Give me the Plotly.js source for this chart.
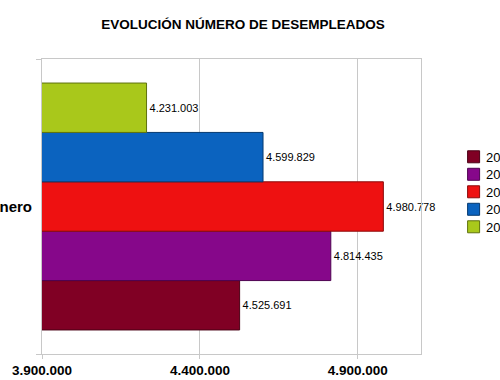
<!DOCTYPE html>
<html>
<head>
<meta charset="utf-8">
<script src="https://cdn.plot.ly/plotly-3.0.1.min.js"></script>
<style>
html,body{margin:0;padding:0;background:#fff;overflow:hidden;}
#chart{width:500px;height:380px;}
</style>
</head>
<body>
<div id="chart"></div>
<script>
const categories = ["Enero"];
const seriesNames = ["2015", "2014", "2013", "2012", "2011"];
const seriesValues = [
  [4525691],
  [4814435],
  [4980778],
  [4599829],
  [4231003]
];
const seriesColors = ["#800024", "#86078a", "#ee1111", "#0b63bf", "#a9c81b"];
const lineColors = ["#4a0015", "#4e0450", "#8a0a0a", "#063a70", "#5f720f"];
const xTicks = [3900000, 4400000, 4900000];

const FONT = "Liberation Sans, Arial, sans-serif";

const traces = seriesNames.map((name, i) => ({
  type: "bar",
  orientation: "h",
  name: name,
  y: categories,
  x: seriesValues[i],
  marker: {color: seriesColors[i], line: {color: lineColors[i], width: 1}},
  texttemplate: "%{x:,d}",
  textposition: "outside",
  cliponaxis: false,
  textfont: {family: FONT, size: 11, color: "#000"}
}));

const layout = {
  width: 500, height: 380,
  separators: ",.",
  paper_bgcolor: "#fff",
  plot_bgcolor: "#fff",
  barmode: "group",
  bargap: 0.163,
  bargroupgap: 0,
  margin: {l: 42, r: 78.5, t: 59, b: 26, autoexpand: false},
  title: {
    text: "<b>EVOLUCIÓN NÚMERO DE DESEMPLEADOS</b>",
    font: {family: FONT, size: 13.5, color: "#000"},
    x: 0.486, xref: "container", xanchor: "center",
    y: 0.937, yref: "container", yanchor: "middle"
  },
  xaxis: {
    range: [3900000, 5100000],
    tickvals: xTicks,
    tickformat: ",d",
    showgrid: true, gridcolor: "#c8c8c8", gridwidth: 1,
    showline: true, linecolor: "#c8c8c8", mirror: true,
    ticks: "outside", ticklen: 4, tickcolor: "#c8c8c8",
    zeroline: false,
    tickfont: {family: FONT, size: 13.5, color: "#000", weight: "bold"}
  },
  yaxis: {
    showline: true, linecolor: "#c8c8c8", mirror: true,
    ticks: "outside", ticklen: 5, tickcolor: "#c8c8c8",
    tickson: "boundaries",
    ticklabelstandoff: 6,
    tickfont: {family: FONT, size: 15, color: "#000", weight: "bold"}
  },
  showlegend: true,
  legend: {
    x: 1.086, xanchor: "left", y: 0.549, yanchor: "middle",
    traceorder: "normal",
    font: {family: FONT, size: 13, color: "#000"},
    itemwidth: 30, tracegroupgap: 0,
    bgcolor: "rgba(0,0,0,0)"
  }
};

Plotly.newPlot("chart", traces, layout, {displayModeBar: false, staticPlot: true}).then(() => {
  document.querySelectorAll("#chart .legendtext").forEach(t => t.setAttribute("x", 32.5));
  // tighten legend row spacing to match the reference
  const items = Array.from(document.querySelectorAll("#chart .legend .traces"));
  const ys = items.map(g => {
    const m = /translate\(\s*([-\d.]+)[ ,]+([-\d.]+)/.exec(g.getAttribute("transform") || "");
    return m ? [parseFloat(m[1]), parseFloat(m[2])] : [0, 0];
  });
  if (ys.length > 1) {
    const mid = (ys[0][1] + ys[ys.length - 1][1]) / 2;
    const step = (ys[ys.length - 1][1] - ys[0][1]) / (ys.length - 1);
    const k = 17.5 / step;
    items.forEach((g, i) => {
      g.setAttribute("transform", "translate(" + ys[i][0] + "," + (mid + (ys[i][1] - mid) * k) + ")");
    });
  }
});
</script>
</body>
</html>
